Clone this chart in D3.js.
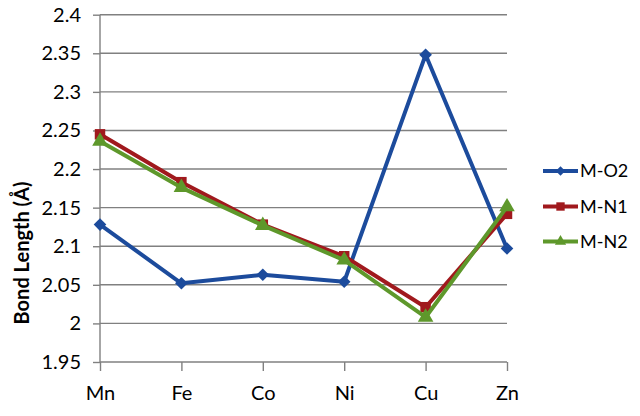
<!DOCTYPE html>
<html>
<head>
<meta charset="utf-8">
<script src="https://cdn.jsdelivr.net/npm/d3@7/dist/d3.min.js"></script>
<style>
  html, body { margin: 0; padding: 0; background: #fff; }
  svg { display: block; }
  text { font-family: Lato, "Open Sans", sans-serif; fill: #000; }
</style>
</head>
<body>
<svg id="chart" width="640" height="416"></svg>
<script>
const categories = ["Mn", "Fe", "Co", "Ni", "Cu", "Zn"];
const seriesNames = ["M-O2", "M-N1", "M-N2"];
const mO2 = [2.128, 2.052, 2.063, 2.054, 2.348, 2.097];
const mN1 = [2.245, 2.183, 2.128, 2.087, 2.021, 2.142];
const mN2 = [2.236, 2.176, 2.127, 2.082, 2.008, 2.151];
const yTicks = [1.95, 2, 2.05, 2.1, 2.15, 2.2, 2.25, 2.3, 2.35, 2.4];
const yTickLabels = ["1.95", "2", "2.05", "2.1", "2.15", "2.2", "2.25", "2.3", "2.35", "2.4"];
const yTitle = "Bond Length (Å)";

const colors = ["#1c4b9c", "#a0191d", "#5e982b"];
// diamond drawn as a square rotated 45 degrees
const shapes = [d3.symbolSquare, d3.symbolSquare, d3.symbolTriangle];
const rotations = [45, 0, 0];
const markerSizes = [80, 110, 105];
const legendSizes = [45, 70, 55];

const svg = d3.select("#chart");
const x = d3.scalePoint().domain(categories).range([100, 507]);
const y = d3.scaleLinear().domain([1.95, 2.4]).range([362, 14.7]);

// gridlines
svg.append("g").selectAll("line").data(yTicks.slice(1)).join("line")
  .attr("x1", 100).attr("x2", 507)
  .attr("y1", d => y(d)).attr("y2", d => y(d))
  .attr("stroke", "#808080").attr("stroke-width", 1.4);

// y axis
const yAxis = d3.axisLeft(y).tickValues(yTicks)
  .tickFormat((d, i) => yTickLabels[i]).tickSize(7).tickPadding(12);
const gy = svg.append("g").attr("transform", "translate(100,0)").call(yAxis);
gy.select(".domain").attr("stroke", "#808080").attr("stroke-width", 1.4)
  .attr("d", `M0,${y(2.4)}V${y(1.95)}`);
gy.selectAll(".tick line").attr("stroke", "#808080").attr("stroke-width", 1.4);
gy.selectAll(".tick text").style("font-family", "Lato, sans-serif")
  .style("font-size", "20px").attr("fill", "#000");

// x axis
const xAxis = d3.axisBottom(x).tickSize(9).tickPadding(15);
const gx = svg.append("g").attr("transform", `translate(0,${y(1.95)})`).call(xAxis);
gx.select(".domain").attr("stroke", "#808080").attr("stroke-width", 1.4)
  .attr("d", `M100,0H507`);
gx.selectAll(".tick line").attr("stroke", "#808080").attr("stroke-width", 1.4);
gx.selectAll(".tick text").style("font-family", "Lato, sans-serif")
  .style("font-size", "20px").attr("fill", "#000");

// y title
svg.append("text")
  .attr("transform", "translate(29,253) rotate(-90)")
  .attr("text-anchor", "middle")
  .style("font-size", "20px").style("font-weight", "bold")
  .text(yTitle);

// series
const data = [mO2, mN1, mN2];
const line = d3.line().x((d, i) => x(categories[i])).y(d => y(d));
data.forEach((vals, s) => {
  const g = svg.append("g");
  g.append("path").datum(vals).attr("d", line)
    .attr("fill", "none").attr("stroke", colors[s]).attr("stroke-width", 4)
    .attr("stroke-linejoin", "round");
  g.selectAll("path.m").data(vals).join("path").attr("class", "m")
    .attr("transform", (d, i) => `translate(${x(categories[i])},${y(d)}) rotate(${rotations[s]})`)
    .attr("d", d3.symbol().type(shapes[s]).size(markerSizes[s]))
    .attr("fill", colors[s]);
});

// legend
const legendY = [171, 206.5, 241.5];
seriesNames.forEach((name, s) => {
  const g = svg.append("g").attr("transform", `translate(0,${legendY[s]})`);
  g.append("line").attr("x1", 543).attr("x2", 578).attr("y1", 0).attr("y2", 0)
    .attr("stroke", colors[s]).attr("stroke-width", 4);
  g.append("path").attr("transform", `translate(560.5,0) rotate(${rotations[s]})`)
    .attr("d", d3.symbol().type(shapes[s]).size(legendSizes[s]))
    .attr("fill", colors[s]);
  g.append("text").attr("x", 580).attr("y", 0).attr("dy", "0.36em")
    .style("font-size", "18px").text(name);
});
</script>
</body>
</html>
